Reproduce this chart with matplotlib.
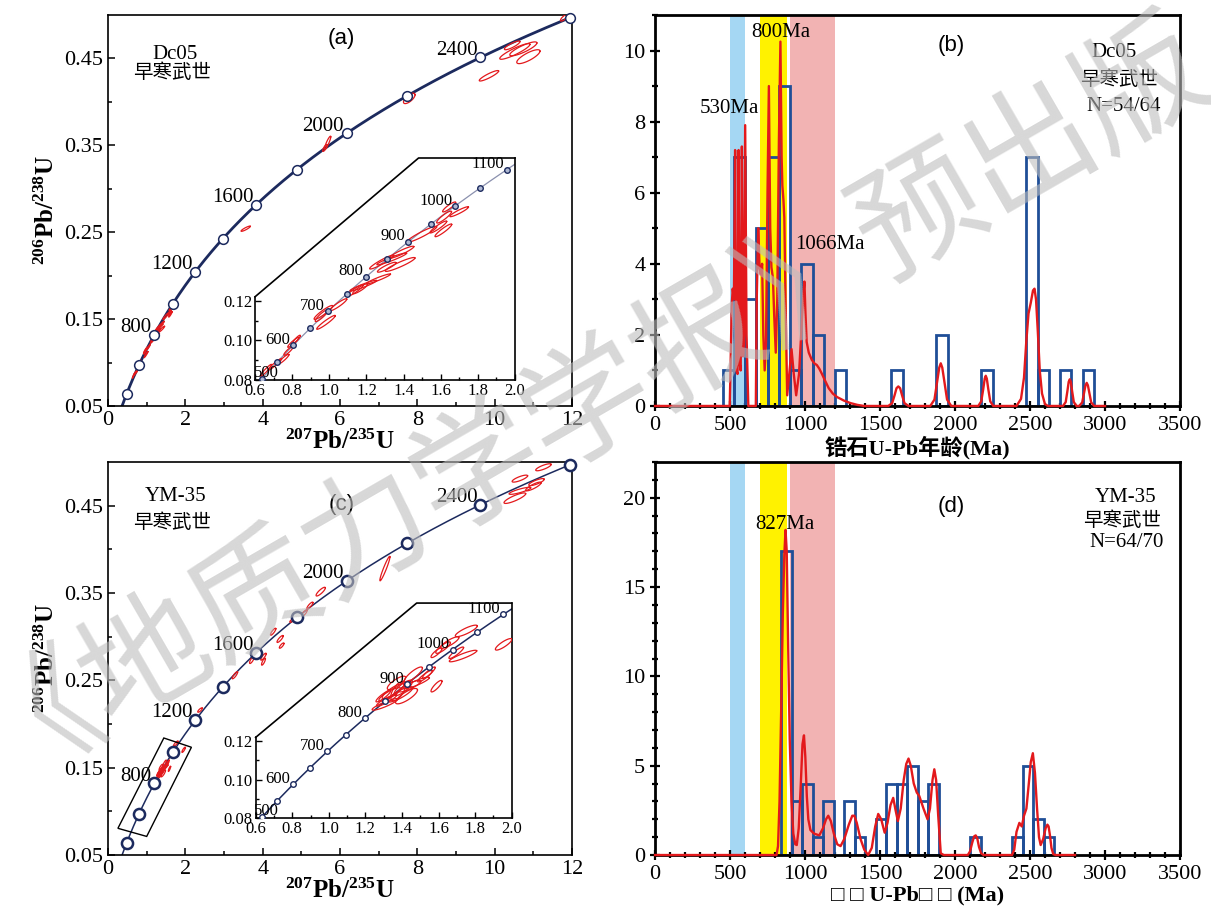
#!/usr/bin/env python3
"""Concordia diagrams and detrital zircon age histograms (Dc05, YM-35)."""

import numpy as np
import matplotlib
matplotlib.use("Agg")
import matplotlib.pyplot as plt
from matplotlib.patches import Polygon
from matplotlib.ticker import MultipleLocator, FixedLocator, FormatStrFormatter

plt.rcParams["font.family"] = ["Liberation Serif", "Noto Sans CJK SC"]
plt.rcParams["mathtext.fontset"] = "custom"
plt.rcParams["mathtext.rm"] = "Liberation Serif"
plt.rcParams["mathtext.bf"] = "Liberation Serif:bold"

# decay constants (1/yr)
L238 = 1.55125e-10
L235 = 9.8485e-10

# concordia age marks (Ma)
main_ages = [400, 600, 800, 1000, 1200, 1400, 1600, 1800, 2000, 2200, 2400, 2600]
main_labels = [800, 1200, 1600, 2000, 2400]
inset_ages = [500, 550, 600, 650, 700, 750, 800, 850, 900, 950, 1000, 1050, 1100]
inset_labels = [500, 600, 700, 800, 900, 1000, 1100]

# Dc05 analyses: 207Pb/235U, 206Pb/238U, half widths, correlation
dc05_x = [0.659, 0.708, 0.753, 0.780, 0.806, 0.824, 0.968, 0.982, 1.049, 0.959,
          1.138, 1.183, 1.264, 1.166, 1.282, 1.336, 1.381, 1.390, 1.309, 1.498,
          1.587, 1.614, 1.618, 1.699, 1.645, 3.56, 5.68, 5.61, 7.79, 10.52,
          10.74, 10.87, 10.45, 9.85, 11.8]
dc05_y = [0.0849, 0.0880, 0.0905, 0.0947, 0.0990, 0.1006, 0.1141, 0.1091, 0.1180, 0.1125,
          0.1251, 0.1276, 0.1310, 0.1260, 0.1395, 0.1411, 0.1383, 0.1445, 0.1369, 0.1535,
          0.1572, 0.1555, 0.1622, 0.1649, 0.1673, 0.254, 0.353, 0.347, 0.404, 0.458,
          0.461, 0.452, 0.465, 0.430, 0.497]
dc05_sx = [0.030, 0.035, 0.030, 0.025, 0.030, 0.020, 0.050, 0.050, 0.045, 0.035,
           0.045, 0.072, 0.065, 0.040, 0.065, 0.080, 0.080, 0.065, 0.050, 0.080,
           0.045, 0.045, 0.040, 0.050, 0.035, 0.12, 0.08, 0.06, 0.15, 0.39,
           0.35, 0.30, 0.20, 0.25, 0.10]
dc05_sy = [0.0030, 0.0028, 0.0025, 0.0022, 0.0025, 0.0020, 0.0035, 0.0035, 0.0030, 0.0030,
           0.0030, 0.0027, 0.0025, 0.0025, 0.0035, 0.0030, 0.0035, 0.0030, 0.0025, 0.0040,
           0.0030, 0.0032, 0.0030, 0.0025, 0.0025, 0.003, 0.0075, 0.004, 0.006, 0.009,
           0.008, 0.008, 0.005, 0.006, 0.004]
dc05_rho = [0.95, 0.95, 0.93, 0.90, 0.93, 0.90, 0.93, 0.95, 0.93, 0.90,
            0.93, 0.95, 0.95, 0.90, 0.94, 0.95, 0.93, 0.93, 0.90, 0.94,
            0.93, 0.93, 0.90, 0.93, 0.90, 0.90, 0.90, 0.80, 0.70, 0.90,
            0.85, 0.80, 0.85, 0.90, 0.80]

# YM-35 analyses
ym35_x = [1.316, 1.352, 1.389, 1.407, 1.443, 1.370, 1.480, 1.334, 1.425, 1.307,
          1.547, 1.589, 1.379, 1.298, 1.462, 1.526, 1.625, 1.661, 1.734, 1.752,
          1.589, 1.956, 1.697, 2.38, 3.28, 3.72, 4.02, 4.02, 4.27, 4.45,
          4.49, 4.79, 5.07, 5.22, 5.50, 7.16, 10.52, 10.65, 11.08, 10.65,
          11.26, 11.00]
ym35_y = [0.1413, 0.1461, 0.1444, 0.1478, 0.1487, 0.1504, 0.1504, 0.1444, 0.1435, 0.1392,
          0.1557, 0.1487, 0.1461, 0.1435, 0.1547, 0.1539, 0.1688, 0.1714, 0.1644, 0.1775,
          0.1661, 0.1705, 0.1661, 0.216, 0.2558, 0.2733, 0.2771, 0.2714, 0.3057, 0.2974,
          0.2898, 0.3195, 0.3267, 0.3356, 0.3516, 0.378, 0.4586, 0.467, 0.477, 0.481,
          0.494, 0.472]
ym35_sx = [0.055, 0.060, 0.070, 0.050, 0.060, 0.050, 0.070, 0.060, 0.060, 0.070,
           0.035, 0.030, 0.040, 0.040, 0.050, 0.040, 0.040, 0.050, 0.075, 0.060,
           0.030, 0.045, 0.040, 0.06, 0.07, 0.06, 0.07, 0.05, 0.07, 0.08,
           0.06, 0.09, 0.08, 0.08, 0.12, 0.13, 0.28, 0.28, 0.20, 0.20,
           0.20, 0.20]
ym35_sy = [0.0030, 0.0040, 0.0040, 0.0040, 0.0030, 0.0035, 0.0030, 0.0035, 0.0040, 0.0030,
           0.0030, 0.0030, 0.0050, 0.0030, 0.0040, 0.0030, 0.0030, 0.0030, 0.0030, 0.0030,
           0.0025, 0.0030, 0.0030, 0.0025, 0.004, 0.004, 0.004, 0.004, 0.004, 0.004,
           0.003, 0.003, 0.004, 0.004, 0.005, 0.014, 0.006, 0.004, 0.004, 0.004,
           0.004, 0.005]
ym35_rho = [0.90, 0.85, 0.85, 0.80, 0.85, 0.80, 0.90, 0.85, 0.80, 0.90,
            0.90, 0.85, 0.60, 0.90, 0.85, 0.90, 0.85, 0.85, 0.90, 0.85,
            0.85, 0.85, 0.90, 0.80, 0.85, 0.80, 0.85, 0.80, 0.85, 0.85,
            0.80, 0.85, 0.85, 0.85, 0.85, 0.95, 0.85, 0.85, 0.80, 0.80,
            0.80, 0.85]

# histograms (bin left edge in Ma, count)
dc05_bin_left = [450, 525, 600, 675, 750, 825, 900, 975, 1050, 1200, 1575, 1875,
                 2175, 2475, 2550, 2700, 2850]
dc05_counts = [1, 7, 3, 5, 7, 9, 1, 4, 2, 1, 1, 2, 1, 7, 1, 1, 1]
dc05_bin_width = 75
ym35_bin_left = [840, 910, 980, 1050, 1120, 1260, 1330, 1470, 1540, 1610, 1680, 1750,
                 1820, 2100, 2380, 2450, 2520, 2590]
ym35_counts = [17, 3, 4, 1, 3, 3, 1, 2, 4, 4, 5, 3, 4, 1, 1, 5, 2, 1]
ym35_bin_width = 70

# probability density curves
dc05_pdp_age = [0, 498, 504, 511, 518, 526, 534, 542, 550, 557, 564, 571, 579, 587, 594,
                601, 610, 622, 672, 678, 688, 697, 705, 714, 722, 731, 740, 750, 759,
                768, 776, 786, 795, 805, 815, 826, 836, 844, 849, 856, 862, 870, 881,
                895, 910, 925, 941, 960, 978, 990, 996, 1003, 1011, 1025, 1045, 1062,
                1079, 1095, 1113, 1135, 1158, 1185, 1214, 1260, 1304, 1350, 1394,
                1555, 1581, 1597, 1610, 1622, 1634, 1647, 1663, 1690,
                1835, 1863, 1880, 1895, 1905, 1915, 1930, 1947, 1975,
                2155, 2175, 2188, 2198, 2205, 2212, 2222, 2235, 2255,
                2410, 2440, 2460, 2475, 2490, 2505, 2520, 2530, 2540, 2552, 2565,
                2580, 2600, 2620,
                2720, 2738, 2749, 2758, 2765, 2772, 2781, 2792, 2810,
                2828, 2848, 2860, 2870, 2878, 2886, 2896, 2908, 2928, 3000]
dc05_pdp = [0, 0, 1.2, 2.8, 3.3, 3.0, 7.2, 1.0, 0.9, 7.2, 1.2, 1.0, 7.3, 1.4, 2.0,
            7.9, 2.0, 0, 0, 3.0, 5.0, 3.9, 3.7, 4.0, 2.0, 1.0, 1.8, 6.0, 9.0,
            5.0, 3.9, 3.6, 2.5, 1.5, 3.0, 7.5, 10.25, 7.0, 6.2, 5.8, 5.3, 3.0, 0.3,
            0.9, 1.6, 0.9, 0.3, 0.9, 2.3, 3.2, 3.5, 2.6, 1.8, 1.5, 1.3, 1.2,
            1.15, 1.05, 0.9, 0.7, 0.5, 0.35, 0.25, 0.15, 0.08, 0.03, 0,
            0, 0.08, 0.3, 0.5, 0.55, 0.5, 0.3, 0.08, 0,
            0, 0.18, 0.66, 1.08, 1.2, 1.08, 0.66, 0.18, 0,
            0, 0.13, 0.47, 0.77, 0.85, 0.77, 0.47, 0.13, 0,
            0, 0.2, 0.8, 1.8, 2.6, 2.9, 3.25, 3.3, 3.0, 2.1, 1.0,
            0.35, 0.05, 0,
            0, 0.11, 0.41, 0.68, 0.75, 0.68, 0.41, 0.11, 0,
            0, 0.1, 0.36, 0.58, 0.65, 0.58, 0.36, 0.1, 0, 0]

ym35_pdp_age = [0, 810, 820, 830, 842, 852, 862, 870, 878, 888, 898, 910, 922, 935, 945,
                958, 972, 983, 993, 1002, 1012, 1022, 1036, 1060, 1095, 1120, 1140,
                1155, 1172, 1192, 1215, 1237, 1262, 1292, 1315, 1329, 1345, 1370,
                1395, 1421, 1445, 1468, 1488, 1508, 1531, 1550, 1570, 1588, 1604,
                1619, 1638, 1658, 1675, 1690, 1705, 1725, 1745, 1762, 1790, 1817,
                1833, 1850, 1862, 1874, 1888, 1905, 1925,
                2085, 2100, 2115, 2128, 2138, 2148, 2160, 2174, 2190,
                2380, 2395, 2410, 2429, 2445, 2460, 2476, 2492, 2505, 2519, 2533,
                2547, 2560, 2571, 2588, 2604, 2616, 2624, 2633, 2643, 2655, 2670, 2800]
ym35_pdp = [0, 0, 0.5, 3.0, 8.5, 13.5, 16.8, 18.2, 17.0, 11.5, 6.5, 3.0, 1.2, 0.6, 0.56,
            1.5, 4.0, 6.2, 6.7, 5.5, 3.3, 2.0, 1.4, 1.2, 1.1, 1.5, 2.0,
            2.2, 1.9, 1.2, 0.6, 0.5, 0.9, 1.7, 2.2, 2.2, 1.8, 0.9,
            0.3, 0.0, 0.4, 1.6, 2.3, 2.0, 1.25, 1.8, 2.8, 3.2, 2.5,
            1.9, 2.6, 4.2, 5.1, 5.4, 5.0, 4.0, 3.5, 3.3, 2.6, 2.0,
            2.6, 4.2, 4.8, 4.2, 2.2, 0.1, 0,
            0, 0.2, 0.7, 1.05, 1.1, 0.95, 0.45, 0.1, 0,
            0, 0.3, 1.3, 1.8, 1.6, 2.2, 2.6, 4.0, 5.2, 5.7, 4.6,
            2.6, 1.0, 0.56, 0.9, 1.5, 1.7, 1.6, 1.1, 0.4, 0.05, 0, 0]

# shaded age windows (Ma)
band_ranges = [(500, 600), (700, 880), (900, 1200)]
band_colors = ["#A5D7F3", "#FFF200", "#F2B3B3"]

dc05_peaks = [("530Ma", 497, 8.36), ("800Ma", 840, 10.5), ("1066Ma", 1163, 4.53)]
ym35_peaks = [("827Ma", 868, 18.5)]

NAVY = "#1C2A5E"
RED = "#E3191C"
BAR = "#1F4E97"
TICK_FS = 16


def concordia(ages):
    t = np.asarray(ages, dtype=float) * 1e6
    return np.exp(L235 * t) - 1, np.exp(L238 * t) - 1


def draw_ellipses(ax, xs, ys, sxs, sys_, rhos, lw):
    t = np.linspace(0, 2 * np.pi, 90)
    for x, y, sx, sy, r in zip(xs, ys, sxs, sys_, rhos):
        ex = x + sx * np.cos(t)
        ey = y + sy * (r * np.cos(t) + np.sqrt(1 - r * r) * np.sin(t))
        ax.plot(ex, ey, color=RED, lw=lw, zorder=3)


def concordia_panel(ax, xs, ys, sxs, sys_, rhos, line_w, ms, mew, tag, sample):
    ax.set_xlim(0, 12)
    ax.set_ylim(0.05, 0.5)
    cx, cy = concordia(np.linspace(300, 2700, 500))
    ax.plot(cx, cy, color=NAVY, lw=line_w, zorder=2)
    draw_ellipses(ax, xs, ys, sxs, sys_, rhos, 0.9)
    mx, my = concordia(main_ages)
    ax.plot(mx, my, "o", ms=ms, mfc="white", mec=NAVY, mew=mew, zorder=4,
            clip_on=False)
    for age in main_labels:
        lx, ly = concordia([age])
        ax.annotate(str(age), (lx[0], ly[0]), xytext=(-2, 2),
                    textcoords="offset points", ha="right", va="baseline",
                    fontsize=15, zorder=5)

    ax.xaxis.set_major_locator(MultipleLocator(2))
    ax.xaxis.set_minor_locator(MultipleLocator(1))
    ax.yaxis.set_major_locator(FixedLocator([0.05, 0.15, 0.25, 0.35, 0.45]))
    ax.yaxis.set_minor_locator(FixedLocator([0.10, 0.20, 0.30, 0.40]))
    ax.yaxis.set_major_formatter(FormatStrFormatter("%.2f"))
    ax.tick_params(which="both", direction="in", labelsize=TICK_FS, width=1.1)
    ax.tick_params(which="major", length=5)
    ax.tick_params(which="minor", length=3)
    for s in ax.spines.values():
        s.set_linewidth(1.2)

    ax.set_xlabel(r"$\mathbf{^{207}Pb/^{235}U}$", fontsize=18, labelpad=0)
    ax.set_ylabel(r"$\mathbf{^{206}Pb/^{238}U}$", fontsize=18, labelpad=4)
    ax.text(0.503, tag[1], tag[0], transform=ax.transAxes, ha="center",
            va="center", fontsize=16, family="Liberation Sans")
    ax.text(0.145, sample[1], sample[0], transform=ax.transAxes, ha="center",
            va="center", fontsize=15)
    ax.text(0.138, sample[2], "早寒武世", transform=ax.transAxes, ha="center",
            va="center", fontsize=14, family="Noto Sans CJK SC")


def add_inset(fig, rect, xs, ys, sxs, sys_, rhos, line_c, line_w, mfc):
    ins = fig.add_axes(rect)
    ins.set_xlim(0.6, 2.0)
    ins.set_ylim(0.08, 0.192)
    ins.patch.set_visible(False)
    cut_y, cut_x = 0.375, 0.629
    ins.add_patch(Polygon([(0, 0), (0, cut_y), (cut_x, 1), (1, 1), (1, 0)],
                          closed=True, transform=ins.transAxes,
                          facecolor="white", edgecolor="none", zorder=0))
    ins.spines["top"].set_visible(False)
    ins.spines["left"].set_bounds(0.08, 0.122)
    for s in ins.spines.values():
        s.set_linewidth(1.2)
    ins.plot([0, cut_x, 1], [cut_y, 1, 1], transform=ins.transAxes,
             color="black", lw=1.2, clip_on=False, zorder=5)

    cx, cy = concordia(np.linspace(450, 1150, 200))
    ins.plot(cx, cy, color=line_c, lw=line_w, zorder=2)
    draw_ellipses(ins, xs, ys, sxs, sys_, rhos, 0.9)
    mx, my = concordia(inset_ages)
    ins.plot(mx, my, "o", ms=4, mfc=mfc, mec=NAVY, mew=1.0, zorder=4)
    for age in inset_labels:
        lx, ly = concordia([age])
        if age == 500:
            ins.annotate(str(age), (lx[0], ly[0]), xytext=(-6, 1),
                         textcoords="offset points", ha="left", va="baseline",
                         fontsize=12)
        else:
            ins.annotate(str(age), (lx[0], ly[0]), xytext=(-2, 1),
                         textcoords="offset points", ha="right", va="baseline",
                         fontsize=12)

    ins.xaxis.set_major_locator(MultipleLocator(0.2))
    ins.xaxis.set_minor_locator(MultipleLocator(0.1))
    ins.xaxis.set_major_formatter(FormatStrFormatter("%.1f"))
    ins.yaxis.set_major_locator(FixedLocator([0.08, 0.10, 0.12]))
    ins.yaxis.set_minor_locator(FixedLocator([0.09, 0.11]))
    ins.yaxis.set_major_formatter(FormatStrFormatter("%.2f"))
    ins.tick_params(which="both", direction="in", labelsize=12, width=1.0,
                    pad=2)
    ins.tick_params(which="major", length=4)
    ins.tick_params(which="minor", length=2.5)
    return ins


def hist_panel(ax, left, counts, width, pdp_age, pdp, ymax, ymajor,
               peaks, tag, lines, xlabel):
    ax.set_xlim(0, 3500)
    ax.set_ylim(0, ymax)
    for (a0, a1), c in zip(band_ranges, band_colors):
        ax.axvspan(a0, a1, color=c, lw=0, zorder=0)
    ax.bar(left, counts, width=width, align="edge", fill=False, edgecolor=BAR,
           lw=2.0, zorder=2)
    ax.plot(pdp_age, pdp, color=RED, lw=1.7, zorder=4, clip_on=False)
    for text, x, y in peaks:
        ax.text(x, y, text, ha="center", va="center", fontsize=15, zorder=5)

    ax.xaxis.set_major_locator(MultipleLocator(500))
    ax.xaxis.set_minor_locator(MultipleLocator(100))
    ax.yaxis.set_major_locator(MultipleLocator(ymajor))
    ax.yaxis.set_minor_locator(MultipleLocator(1))
    ax.tick_params(which="both", direction="inout", labelsize=TICK_FS, width=1.6)
    ax.tick_params(which="major", length=7)
    ax.tick_params(which="minor", length=4)
    for s in ax.spines.values():
        s.set_linewidth(2.0)

    ax.text(0.564, tag[1], tag[0], transform=ax.transAxes, ha="center",
            va="center", fontsize=16, family="Liberation Sans")
    for text, fx, fy, fam, fs in lines:
        ax.text(fx, fy, text, transform=ax.transAxes, ha="center", va="center",
                fontsize=fs, family=fam)
    ax.set_xlabel(xlabel, fontsize=16, fontweight="bold", labelpad=1,
                  family=["Liberation Serif", "Noto Sans CJK SC", "DejaVu Sans"])


fig = plt.figure(figsize=(12.11, 9.07), dpi=100)

ax_a = fig.add_axes([0.0892, 0.5524, 0.3832, 0.4311])
concordia_panel(ax_a, dc05_x, dc05_y, dc05_sx, dc05_sy, dc05_rho, 2.0, 7, 1.1,
                ("(a)", 0.939), ("Dc05", 0.898, 0.852))
add_inset(fig, [0.2106, 0.581, 0.2147, 0.2448], dc05_x, dc05_y, dc05_sx,
          dc05_sy, dc05_rho, "#8A90AE", 0.9, "#AEB8D2")

ax_c = fig.add_axes([0.0892, 0.0573, 0.3832, 0.4333])
concordia_panel(ax_c, ym35_x, ym35_y, ym35_sx, ym35_sy, ym35_rho, 1.1, 8, 1.8,
                ("(c)", 0.891), ("YM-35", 0.913, 0.847))
# outline of the enlarged area
ax_c.add_patch(Polygon([(0.256, 0.0806), (1.0, 0.0713), (2.157, 0.1734),
                        (1.443, 0.184)], closed=True, fill=False,
                       edgecolor="black", lw=1.0, zorder=5))
add_inset(fig, [0.2111, 0.0981, 0.2114, 0.2370], ym35_x, ym35_y, ym35_sx,
          ym35_sy, ym35_rho, NAVY, 1.1, "white")

ax_b = fig.add_axes([0.5409, 0.5524, 0.4335, 0.4311])
hist_panel(ax_b, dc05_bin_left, dc05_counts, dc05_bin_width, dc05_pdp_age,
           dc05_pdp, 11, 2, dc05_peaks, ("(b)", 0.922),
           [("Dc05", 0.874, 0.905, "Liberation Serif", 15),
            ("早寒武世", 0.883, 0.835, "Noto Sans CJK SC", 14),
            ("N=54/64", 0.893, 0.765, "Liberation Serif", 15)],
           "锆石U-Pb年龄(Ma)")

ax_d = fig.add_axes([0.5409, 0.0573, 0.4335, 0.4333])
hist_panel(ax_d, ym35_bin_left, ym35_counts, ym35_bin_width, ym35_pdp_age,
           ym35_pdp, 22, 5, ym35_peaks, ("(d)", 0.888),
           [("YM-35", 0.897, 0.909, "Liberation Serif", 15),
            ("早寒武世", 0.890, 0.852, "Noto Sans CJK SC", 14),
            ("N=64/70", 0.899, 0.794, "Liberation Serif", 15)],
           "\u25a1 \u25a1 U-Pb\u25a1 \u25a1 (Ma)")

# journal watermark
fig.text(0.480, 0.585, "《地质力学学报》预出版", rotation=30, rotation_mode="anchor",
         ha="center", va="center", fontsize=92, color="#BDBDBD", alpha=0.6,
         family="Noto Sans CJK SC", zorder=20)

fig.savefig("out.png", dpi=100)
